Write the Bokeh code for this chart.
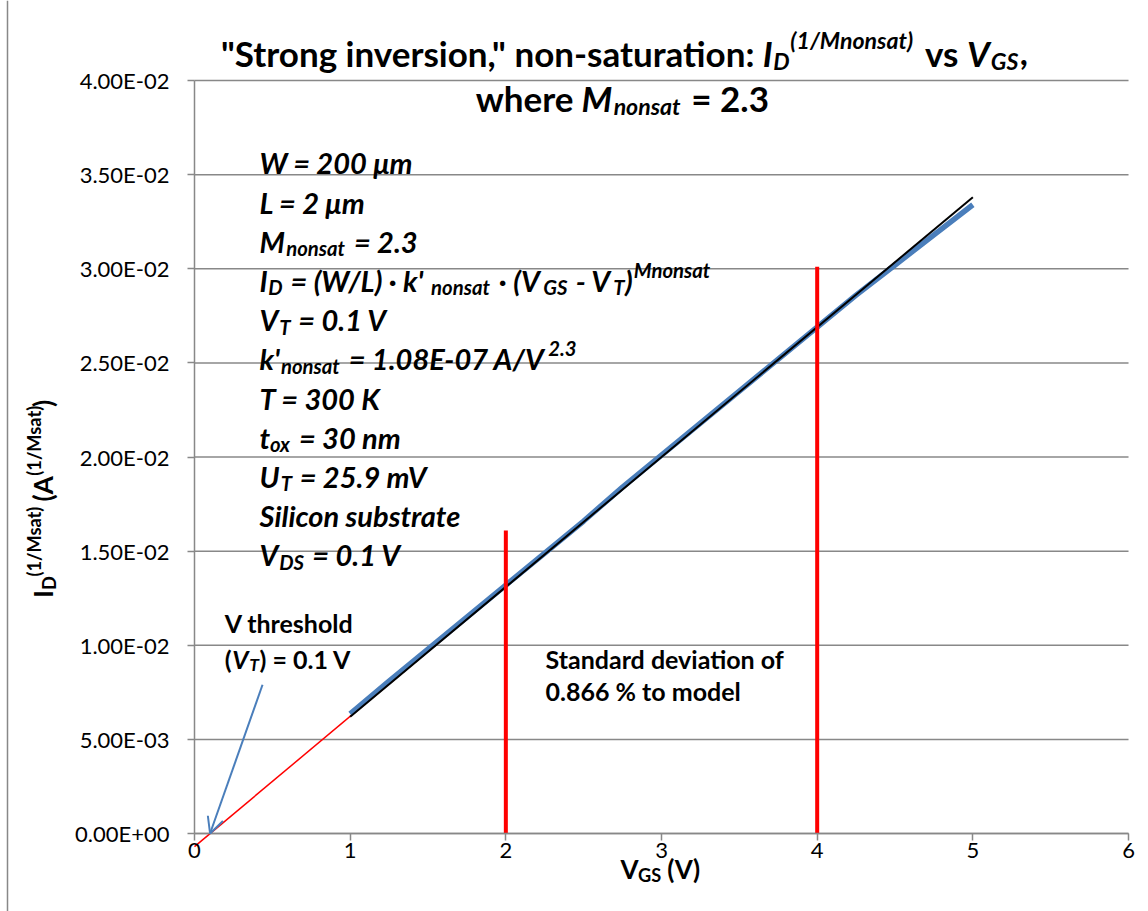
import math
from bokeh.plotting import figure
from bokeh.models import Label, Arrow, OpenHead, FixedTicker
from bokeh.embed import file_html
from bokeh.resources import INLINE

# ---------------- data ----------------
meas_v = [1.0, 1.25, 1.5, 1.75, 2.0, 2.25, 2.5, 2.75, 3.0, 3.25, 3.5, 3.75, 4.0, 4.25, 4.5, 4.75, 5.0]
meas_i = [0.00635, 0.0081, 0.0098, 0.0115, 0.0132, 0.0149, 0.0166, 0.0184, 0.0201, 0.0218,
          0.0235, 0.0252, 0.0269, 0.0286, 0.0302, 0.0318, 0.0334]
fit_v = [1.0, 5.0]
fit_i = [0.0062, 0.0338]
model_v = [0.0, 4.0]
model_i = [-0.0007, 0.0270]
range_marks_v = [2.0, 4.0]
range_marks_top = [0.0161, 0.0301]
arrow_start = (0.437, 0.0079)
arrow_end = (0.1, 0.0)

x_ticks = [0, 1, 2, 3, 4, 5, 6]
y_ticks = [0.0, 0.005, 0.01, 0.015, 0.02, 0.025, 0.03, 0.035, 0.04]
y_tick_labels = ["0.00E+00", "5.00E-03", "1.00E-02", "1.50E-02", "2.00E-02",
                 "2.50E-02", "3.00E-02", "3.50E-02", "4.00E-02"]
x_bounds = (0, 6)
y_bounds = (0.0, 0.04)

FONT = "Lato"
GRID = "#888888"

# pixel geometry of the reference: x=0 at px 194, 155.67 px per volt; y=0 at px 833, 18825 px per unit
XPX, XS = 194.0, 155.67
YPX, YS = 833.0, 18825.0
W_, H_ = 1148, 911


def dx(px):
    return (px - XPX) / XS


def dy(py):
    return (YPX - py) / YS


CW = {' ': .25, '"': .40, "'": .22, '(': .30, ')': .30, ',': .24, '-': .36, '.': .24, '/': .37,
      ':': .26, '=': .58, '·': .30, '%': .80, 'μ': .58,
      'a': .51, 'b': .56, 'c': .47, 'd': .56, 'e': .53, 'f': .33, 'g': .51, 'h': .56, 'i': .25,
      'j': .25, 'k': .52, 'l': .25, 'm': .84, 'n': .56, 'o': .56, 'p': .56, 'q': .56, 'r': .37,
      's': .43, 't': .36, 'u': .56, 'v': .52, 'w': .78, 'x': .51, 'y': .52, 'z': .46,
      'A': .69, 'B': .65, 'C': .66, 'D': .74, 'E': .56, 'F': .54, 'G': .72, 'H': .76, 'I': .30,
      'K': .69, 'L': .49, 'M': .92, 'N': .76, 'O': .79, 'P': .61, 'R': .64, 'S': .53, 'T': .58,
      'U': .73, 'V': .68, 'W': 1.02}


def est_w(s):
    return sum(CW.get(c, 0.58) for c in s)


p = figure(width=W_, height=H_, x_range=(dx(0), dx(W_)), y_range=(dy(H_), dy(0)),
           output_backend="svg", toolbar_location=None, title=None,
           min_border_left=0, min_border_right=0, min_border_top=0, min_border_bottom=0)
p.outline_line_color = None
p.background_fill_color = "white"
p.border_fill_color = "white"
p.xgrid.visible = False
p.ygrid.visible = False

# horizontal gridlines across the plot area only
p.segment(x0=[x_bounds[0]] * len(y_ticks), y0=y_ticks, x1=[x_bounds[1]] * len(y_ticks), y1=y_ticks,
          line_color=GRID, line_width=1.5)
# chart-area border on the left edge
p.segment(x0=[dx(7)], y0=[dy(0)], x1=[dx(7)], y1=[dy(H_)], line_color=GRID, line_width=1.5)

p.xaxis.ticker = FixedTicker(ticks=x_ticks)
p.yaxis.ticker = FixedTicker(ticks=y_ticks)
p.yaxis.major_label_overrides = {t: l for t, l in zip(y_ticks, y_tick_labels)}
p.xaxis.fixed_location = 0
p.yaxis.fixed_location = 0
p.xaxis.bounds = x_bounds
p.yaxis.bounds = y_bounds
for ax in (p.xaxis, p.yaxis):
    ax.axis_line_color = GRID
    ax.axis_line_width = 1.5
    ax.major_tick_line_color = GRID
    ax.major_tick_line_width = 1.5
    ax.major_tick_out = 7
    ax.major_tick_in = 0
    ax.minor_tick_line_color = None
    ax.major_label_text_font = FONT
    ax.major_label_text_font_size = "22px"
    ax.major_label_text_color = "black"
p.yaxis.major_label_standoff = 18
p.xaxis.major_label_standoff = 2

# ---------------- marks ----------------
p.line(model_v, model_i, line_color="#FF0000", line_width=1.5)
p.line(meas_v, meas_i, line_color="#4A7EBB", line_width=5.5)
p.line(fit_v, fit_i, line_color="black", line_width=2)
p.segment(x0=range_marks_v, y0=[0, 0], x1=range_marks_v, y1=range_marks_top,
          line_color="#FF0000", line_width=4)
p.add_layout(Arrow(end=OpenHead(size=16, line_color="#4A7EBB", line_width=2),
                   x_start=arrow_start[0], y_start=arrow_start[1],
                   x_end=arrow_end[0], y_end=arrow_end[1],
                   line_color="#4A7EBB", line_width=2))


# ---------------- rich text helper ----------------
def draw_rich(x, y, segs, size, align="left", angle=0.0, sub_scale=0.70):
    pieces = []
    cur = 0.0
    for text, kind, ital in segs:
        sz = size * sub_scale if kind in ("sub", "sup") else size
        shift = -0.24 * size if kind == "sub" else (0.36 * size if kind == "sup" else 0.0)
        lead = len(text) - len(text.lstrip(" "))
        core = text.strip(" ")
        pieces.append((core, sz, shift, ital, cur + est_w(" " * lead) * sz))
        cur += est_w(text) * sz
    start = -cur / 2 if align == "center" else 0.0
    raise_ = 0.40 * size
    for text, sz, shift, ital, off in pieces:
        style = "bold italic" if ital else "bold"
        if angle == 0:
            xo, yo = start + off, shift + raise_
        else:
            xo, yo = -(shift + raise_), start + off
        p.add_layout(Label(x=x, y=y, x_offset=xo, y_offset=yo, text=text,
                           text_font=FONT, text_font_size=f"{sz:.1f}px",
                           text_font_style=style, text_baseline="alphabetic",
                           text_align="left", angle=angle, text_color="black"))


N, I = False, True
# title
draw_rich(dx(624), dy(66), [('"Strong inversion," non-saturation: ', "n", N), ("I", "n", I),
                            ("D", "sub", I), ("(1/Mnonsat)", "sup", I), (" vs ", "n", N),
                            ("V", "n", I), ("GS", "sub", I), (",", "n", N)], 35, align="center",
          sub_scale=0.66)
draw_rich(dx(622), dy(111), [("where ", "n", N), ("M", "n", I), ("nonsat", "sub", I),
                             (" = 2.3", "n", N)], 35, align="center", sub_scale=0.66)

# parameter block
block = [
    [("W = 200 μm", "n", I)],
    [("L = 2 μm", "n", I)],
    [("M", "n", I), ("nonsat", "sub", I), (" = 2.3", "n", I)],
    [("I", "n", I), ("D", "sub", I), (" = (W/L) · k'", "n", I), ("nonsat", "sub", I),
     (" · (V", "n", I), ("GS", "sub", I), (" - V", "n", I), ("T", "sub", I), (")", "n", I),
     ("Mnonsat", "sup", I)],
    [("V", "n", I), ("T", "sub", I), (" = 0.1 V", "n", I)],
    [("k'", "n", I), ("nonsat", "sub", I), (" = 1.08E-07 A/V", "n", I), ("2.3", "sup", I)],
    [("T = 300 K", "n", I)],
    [("t", "n", I), ("ox", "sub", I), (" = 30 nm", "n", I)],
    [("U", "n", I), ("T", "sub", I), (" = 25.9 mV", "n", I)],
    [("Silicon substrate", "n", I)],
    [("V", "n", I), ("DS", "sub", I), (" = 0.1 V", "n", I)],
]
for k, segs in enumerate(block):
    draw_rich(dx(259), dy(174 + 39.2 * k), segs, 29)

# annotations
draw_rich(dx(288), dy(632), [("V threshold", "n", N)], 25, align="center")
draw_rich(dx(288), dy(668), [("(", "n", N), ("V", "n", I), ("T", "sub", I),
                             (") = 0.1 V", "n", N)], 25, align="center")
draw_rich(dx(545), dy(668), [("Standard deviation of", "n", N)], 25)
draw_rich(dx(545), dy(700), [("0.866 % to model", "n", N)], 25)

# axis titles
draw_rich(dx(660), dy(879), [("V", "n", N), ("GS", "sub", N), (" (V)", "n", N)], 26,
          align="center")
draw_rich(dx(53), dy(498), [("I", "n", N), ("D", "sub", N), ("(1/Msat)", "sup", N),
                            (" (A", "n", N), ("(1/Msat)", "sup", N), (")", "n", N)],
          26, align="center", angle=math.pi / 2)

open("out.html", "w").write(file_html(p, INLINE))
